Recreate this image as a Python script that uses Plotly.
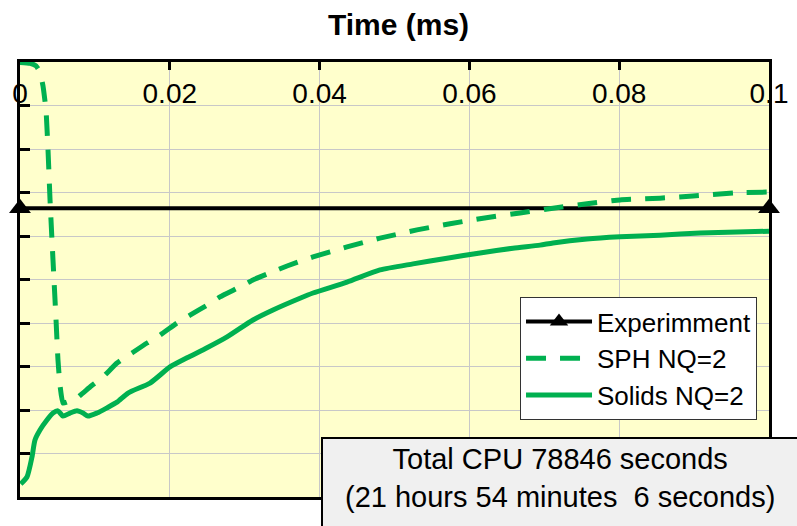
import plotly.graph_objects as go

# Time axis (ms)
x_ticks = [0, 0.02, 0.04, 0.06, 0.08, 0.1]
x_tick_text = ["0", "0.02", "0.04", "0.06", "0.08", "0.1"]

# Experimental reference level
exp_t = [0.0, 0.1]
exp_v = [6.64, 6.64]

# SPH NQ=2 response
sph_t = [0.0, 0.00134, 0.00214, 0.00267, 0.00307, 0.00347, 0.00374, 0.00401,
         0.00427, 0.00454, 0.00481, 0.00507, 0.00534, 0.00574, 0.00668, 0.00761,
         0.00935, 0.01108, 0.01295, 0.01495, 0.01696, 0.01869, 0.02096, 0.02270,
         0.02497, 0.02670, 0.02937, 0.03111, 0.03364, 0.03565, 0.03912, 0.04366,
         0.04806, 0.05300, 0.05741, 0.06182, 0.06676, 0.07116, 0.07570, 0.08011,
         0.08545, 0.08985, 0.09519, 0.1]
sph_v = [9.99, 9.97, 9.91, 9.77, 9.45, 8.90, 7.98, 6.83,
         5.91, 4.99, 4.07, 3.15, 2.57, 2.16, 2.21, 2.28,
         2.53, 2.76, 3.08, 3.31, 3.54, 3.72, 4.00, 4.18,
         4.41, 4.60, 4.83, 4.99, 5.17, 5.31, 5.52, 5.75,
         5.95, 6.14, 6.28, 6.41, 6.53, 6.64, 6.74, 6.83,
         6.87, 6.92, 6.99, 7.01]

# Solids NQ=2 response
sol_t = [0.0001, 0.00093, 0.00160, 0.00200, 0.00267, 0.00360, 0.00441, 0.00507,
         0.00574, 0.00668, 0.00761, 0.00841, 0.00908, 0.01028, 0.01162, 0.01295,
         0.01442, 0.01736, 0.02003, 0.02230, 0.02497, 0.02764, 0.03111, 0.03378,
         0.03738, 0.03912, 0.04366, 0.04806, 0.05247, 0.05701, 0.06142, 0.06582,
         0.06943, 0.07116, 0.07570, 0.08011, 0.08545, 0.09079, 0.09573, 0.1]
sol_v = [0.30, 0.46, 0.92, 1.31, 1.54, 1.77, 1.93, 1.98,
         1.86, 1.93, 1.98, 1.93, 1.86, 1.93, 2.05, 2.18,
         2.39, 2.62, 2.99, 3.20, 3.43, 3.68, 4.07, 4.30,
         4.57, 4.69, 4.94, 5.22, 5.36, 5.49, 5.61, 5.72,
         5.79, 5.84, 5.93, 5.98, 6.02, 6.07, 6.09, 6.11]

cpu_note = "Total CPU 78846 seconds<br>(21 hours 54 minutes \u00a06 seconds)"

GREEN = "#00B050"
FONT = "Liberation Sans, Arial, sans-serif"

fig = go.Figure()
fig.add_trace(go.Scatter(
    x=exp_t, y=exp_v, name="Experimment", mode="lines+markers",
    line=dict(color="black", width=4),
    marker=dict(symbol="triangle-up", size=19, color="black"),
    cliponaxis=False,
))
fig.add_trace(go.Scatter(
    x=sph_t, y=sph_v, name="SPH NQ=2", mode="lines",
    line=dict(color=GREEN, width=5, dash="20px,14px", shape="spline", smoothing=0.4),
))
fig.add_trace(go.Scatter(
    x=sol_t, y=sol_v, name="Solids NQ=2", mode="lines",
    line=dict(color=GREEN, width=5, shape="spline", smoothing=0.6),
))

fig.update_layout(
    width=797, height=526,
    margin=dict(l=20, r=28, t=62, b=29),
    paper_bgcolor="white",
    plot_bgcolor="#FFFFCC",
    font=dict(family=FONT, color="black"),
    title=dict(text="<b>Time (ms)</b>", x=0.5, xref="container", xanchor="center",
               y=1 - 24 / 526, yanchor="middle", font=dict(size=30, color="black")),
    showlegend=True,
    legend=dict(
        x=0.984, y=0.177, xanchor="right", yanchor="bottom",
        bgcolor="white", bordercolor="#333333", borderwidth=1,
        font=dict(size=26, color="black"), itemwidth=66,
    ),
)

fig.update_xaxes(
    range=[0, 0.1], side="top",
    tickvals=x_ticks, ticktext=x_tick_text,
    ticks="inside", ticklen=8, tickwidth=2.5, tickcolor="black",
    ticklabelposition="inside", ticklabeloverflow="allow", ticklabelstandoff=16,
    tickfont=dict(size=28, color="black"),
    showline=True, linecolor="black", linewidth=2.5, mirror=True,
    showgrid=True, gridcolor="#C8C8C8", gridwidth=1,
    zeroline=False, automargin=False,
)
fig.update_yaxes(
    range=[0, 10], dtick=1, tick0=0,
    ticks="inside", ticklen=10, tickwidth=2.5, tickcolor="black",
    showticklabels=False,
    showline=True, linecolor="black", linewidth=2.5, mirror=True,
    showgrid=True, gridcolor="#C8C8C8", gridwidth=1,
    zeroline=False, automargin=False,
)

# CPU time note box in the lower right
fig.add_shape(
    type="rect", xref="paper", yref="paper",
    x0=(322 - 20) / 749, x1=1.1, y0=-0.2, y1=(497 - 438) / 435,
    fillcolor="#F0F0F0", line=dict(color="black", width=2), layer="above",
)
fig.add_annotation(
    text=cpu_note, xref="paper", yref="paper",
    x=(560 - 20) / 749, y=(497 - 477.5) / 435, xanchor="center", yanchor="middle",
    showarrow=False, align="center",
    font=dict(size=29, color="black", family=FONT),
)

fig.write_html("out.html")
